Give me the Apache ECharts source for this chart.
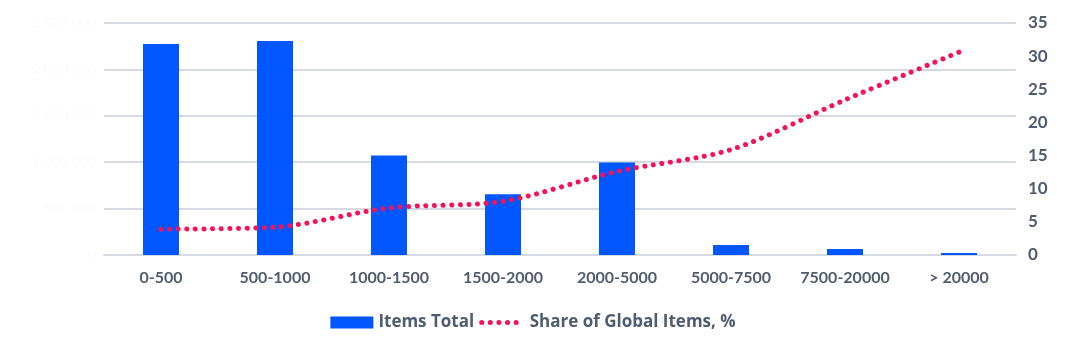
<!DOCTYPE html>
<html>
<head>
<meta charset="utf-8">
<script src="https://cdn.jsdelivr.net/npm/echarts@6/dist/echarts.min.js"></script>
<style>
  html, body { margin: 0; padding: 0; background: #fff; }
  #main { width: 1066px; height: 353px; }
</style>
</head>
<body>
<div id="main"></div>
<script>
// price ranges
var categories = ['0-500', '500-1000', '1000-1500', '1500-2000', '2000-5000', '5000-7500', '7500-20000', '> 20000'];
// bars, left axis (labels nearly invisible in the original)
var itemsTotal = [2275000, 2307000, 1073000, 655000, 998000, 107000, 64000, 21000];
// dotted line, right axis, %
var shareGlobal = [3.9, 4.2, 7.1, 8.1, 12.6, 15.9, 23.4, 30.6];

var textColor = '#4f5b6e';
var fontName = 'Lato';
var lineColor = '#f2145a';

var chart = echarts.init(document.getElementById('main'));

chart.setOption({
    animation: false,
    textStyle: { fontFamily: fontName },
    grid: { left: 104, right: 50, top: 23, bottom: 98 },
    legend: {
        bottom: 17,
        left: 'center',
        itemGap: 5,
        itemWidth: 43,
        itemHeight: 12,
        textStyle: { color: textColor, fontSize: 17, fontWeight: 'bold', fontFamily: 'Open Sans' },
        data: [
            { name: 'Items Total', icon: 'rect' },
            {
                name: 'Share of Global Items, %',
                itemStyle: { opacity: 0 },
                lineStyle: { width: 5, type: [0.1, 8.5], cap: 'round' }
            }
        ]
    },
    xAxis: {
        type: 'category',
        data: categories,
        axisTick: { show: false },
        axisLine: { lineStyle: { color: '#d5d9e1', width: 2 } },
        axisLabel: { color: textColor, fontSize: 16, fontWeight: 'bold', margin: 15, interval: 0 }
    },
    yAxis: [
        {
            type: 'value',
            min: 0,
            max: 2500000,
            interval: 500000,
            axisLabel: {
                color: '#fbfbfc',
                fontSize: 14,
                formatter: function (v) {
                    return v.toString().replace(/\B(?=(\d{3})+(?!\d))/g, ' ');
                }
            },
            splitLine: { lineStyle: { color: '#d5d9e1', width: 2 } }
        },
        {
            type: 'value',
            min: 0,
            max: 35,
            interval: 5,
            position: 'right',
            axisLabel: { color: textColor, fontSize: 17, fontWeight: 'bold', margin: 12 },
            splitLine: { show: false }
        }
    ],
    series: [
        {
            name: 'Items Total',
            type: 'bar',
            data: itemsTotal,
            barWidth: 36,
            itemStyle: { color: '#0057ff' }
        },
        {
            name: 'Share of Global Items, %',
            type: 'line',
            yAxisIndex: 1,
            data: shareGlobal,
            smooth: 0.3,
            symbol: 'none',
            itemStyle: { color: lineColor },
            lineStyle: { color: lineColor, width: 5, type: [0.1, 8.5], cap: 'round' }
        }
    ]
});
</script>
</body>
</html>
